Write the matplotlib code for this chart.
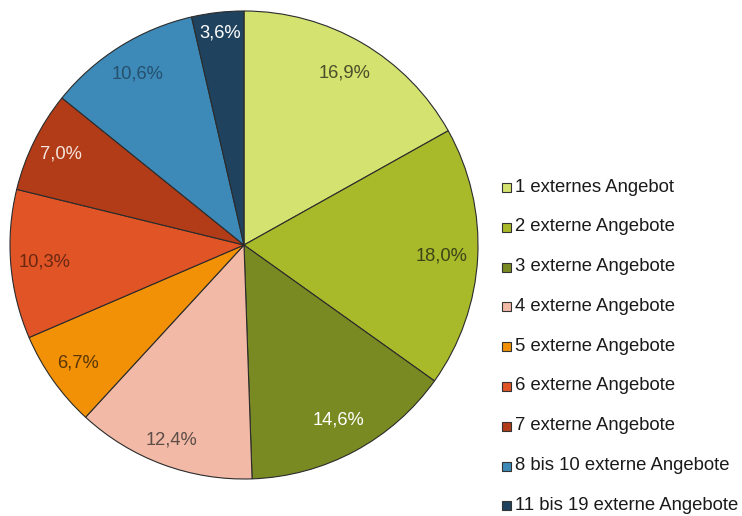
import matplotlib

matplotlib.use("Agg")
import matplotlib.pyplot as plt
import numpy as np
from matplotlib.patches import Rectangle

plt.rcParams["font.family"] = ["Liberation Sans", "DejaVu Sans"]

CATEGORIES = [
    "1 externes Angebot",
    "2 externe Angebote",
    "3 externe Angebote",
    "4 externe Angebote",
    "5 externe Angebote",
    "6 externe Angebote",
    "7 externe Angebote",
    "8 bis 10 externe Angebote",
    "11 bis 19 externe Angebote",
]
SHARES = [16.9, 18.0, 14.6, 12.4, 6.7, 10.3, 7.0, 10.6, 3.6]

COLORS = ["#d4e26f", "#a8b92a", "#7a8a22", "#f2b9a6", "#f29106",
          "#e05426", "#b23c18", "#3d8ab8", "#1f435e"]
LABEL_COLORS = ["#4a4e2a", "#3c4418", "#ffffff", "#5e4e48", "#5a3608",
                "#6a2812", "#f4e4dc", "#25506e", "#ffffff"]
# radial position of each percentage label (fraction of radius)
LABEL_RADII = [0.85, 0.846, 0.85, 0.89, 0.87, 0.857, 0.872, 0.86, 0.91]

W, H = 742, 516
fig = plt.figure(figsize=(W / 100, H / 100), dpi=100)
ax = fig.add_axes([10 / W, 37 / H, 468 / W, 468 / H])

wedges, _ = ax.pie(
    SHARES,
    colors=COLORS,
    startangle=90,
    counterclock=False,
    radius=1.0,
    wedgeprops=dict(edgecolor="#2b2b2b", linewidth=0.8),
)
ax.set_xlim(-1.0, 1.0)
ax.set_ylim(-1.0, 1.0)
ax.set_aspect("equal")
ax.axis("off")

for w, val, col, rr in zip(wedges, SHARES, LABEL_COLORS, LABEL_RADII):
    mid = np.deg2rad((w.theta1 + w.theta2) / 2)
    ax.text(rr * np.cos(mid), rr * np.sin(mid), f"{val:.1f}%".replace(".", ","),
            ha="center", va="center", fontsize=13.2, color=col)

# hand-placed legend to the right of the pie
for i, (name, col) in enumerate(zip(CATEGORIES, COLORS)):
    yc = 187 + 39.8 * i
    fig.patches.append(Rectangle((502 / W, (H - yc - 5) / H), 9 / W, 9 / H,
                                 transform=fig.transFigure, facecolor=col,
                                 edgecolor="#333333", linewidth=0.8))
    fig.text(515 / W, (H - yc) / H, name, ha="left", va="center",
             fontsize=13.3, color="#1a1a1a")

fig.savefig("out.png", dpi=100)
